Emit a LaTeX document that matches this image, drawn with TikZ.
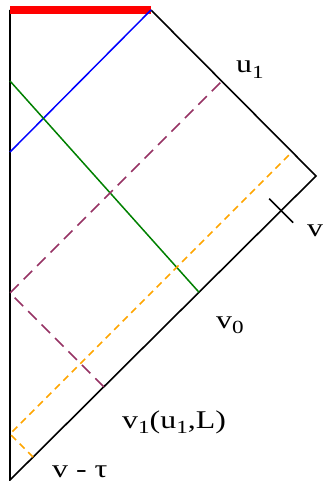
\documentclass[tikz,border=0pt]{standalone}
\usepackage{fontspec}
\newfontfamily\labfont{Liberation Serif}[FakeStretch=1.25]
\usetikzlibrary{calc}
\newcommand\lsub[1]{\raisebox{-0.22em}{\fontsize{18.5}{18.5}\selectfont #1}}
\definecolor{dpurple}{RGB}{150,50,100}
\definecolor{dorange}{RGB}{255,165,0}
\definecolor{dgreen}{RGB}{0,128,0}
\tikzset{
  frame/.style={black,line width=1.6pt},
  ray/.style={line width=1.5pt},
  purpledash/.style={ray,dpurple,dash pattern=on 12pt off 7pt},
  orangedash/.style={ray,dorange,dash pattern=on 7pt off 5pt},
  lab/.style={anchor=base west,inner sep=0pt,font=\labfont\fontsize{25.5}{25.5}\selectfont}
}
\begin{document}
\begin{tikzpicture}[x=1pt,y=-1pt]
\useasboundingbox (0,0) rectangle (324,481);
\clip (0,0) rectangle (324,481);
\coordinate (TL) at (10,10);
\coordinate (A) at (151,10);
\coordinate (R) at (316,176);
\coordinate (B) at (10,480);
% frame
\draw[frame] (TL) -- (B) -- (R) -- (A);
\draw[red,line width=8pt] (TL) -- (A);
% points on left edge
\coordinate (Gl) at (10,81);
\coordinate (Bl) at (10,152);
\coordinate (Pl) at (10,293);
\coordinate (Ol) at (10,434);
% points on lower-right edge
\coordinate (Ge) at ($(B)!0.6176!(R)$);
\coordinate (Pe) at ($(B)!0.3065!(R)$);
\coordinate (Oe) at ($(B)!0.0755!(R)$);
\coordinate (Tk) at ($(B)!0.886!(R)$);
% points on upper-right edge
\coordinate (Pu) at (221.5,81.5);
\coordinate (Ou) at (292,152);
% rays
\draw[ray,blue] (Bl) -- (A);
\draw[ray,dgreen] (Gl) -- (Ge);
\draw[purpledash] (Pe) -- (Pl) -- (Pu);
\draw[orangedash] (Oe) -- (Ol) -- (Ou);
% tick
\coordinate (T1) at ($(Tk)+(-12,-12)$);
\coordinate (T2) at ($(Tk)+(12,12)$);
\draw[frame] (T1) -- (T2);
% labels
\node[lab] (lu) at (236,73) {u\lsub{1}};
\node[lab] (lv0) at (216,328) {v\lsub{0}};
\node[lab] (lv1) at (122,428) {v\lsub{1}(u\lsub{1},L)};
\node[lab] (lvt) at (52,477) {v - τ};
\node[lab] (lv) at (307,236) {v};
\end{tikzpicture}
\end{document}
